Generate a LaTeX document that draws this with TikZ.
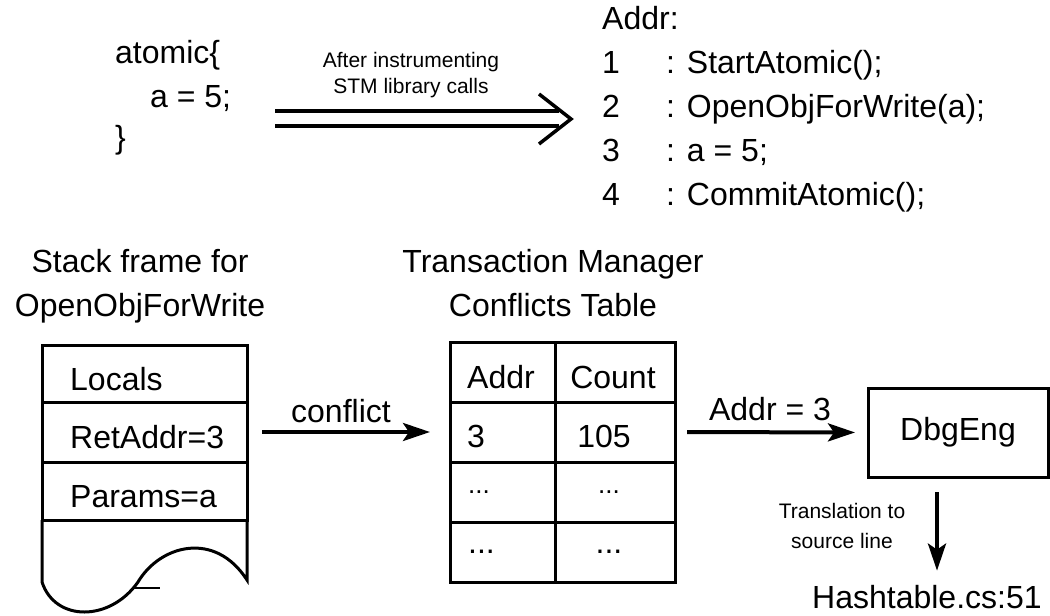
\documentclass[tikz,border=0pt]{standalone}
\usepackage{fontspec}
\setmainfont{Liberation Sans}
\usetikzlibrary{arrows.meta}

\tikzset{
    txt/.style={font=\fontsize{32}{38}\selectfont, inner sep=0pt},
    note/.style={font=\fontsize{21}{25}\selectfont, inner sep=0pt},
    cell/.style={draw, line width=3pt, inner sep=0pt, outer sep=0pt},
    flow/.style={line width=4pt, -{Stealth[length=27pt, width=18pt, inset=6pt]}},
}

\begin{document}
\begin{tikzpicture}[x=1pt, y=-1pt]
    \useasboundingbox (0,0) rectangle (1050,616);
    \fill[white] (0,0) rectangle (1050,616);

    % source block and its instrumented form
    \node[txt, anchor=base west] (atomic) at (115,63) {atomic\{};
    \node[txt, anchor=base west] (assign) at (150,107) {a = 5;};
    \node[txt, anchor=base west] (close) at (115,148) {\}};

    \node[txt, anchor=base west] (addr) at (602,29) {Addr:};
    \foreach \n/\call in {1/{StartAtomic();}, 2/{OpenObjForWrite(a);}, 3/{a = 5;}, 4/{CommitAtomic();}} {
        \node[txt, anchor=base west] (num\n) at (602,29+44*\n) {\n};
        \node[txt, anchor=base west] (call\n) at (666,29+44*\n) {: \call};
    }

    \coordinate (impl-s) at (275,118);
    \coordinate (impl-e) at (571,119);
    \draw[line width=4pt, double distance=11pt] (impl-s) -- ([xshift=-12pt, yshift=1pt]impl-e);
    \draw[line width=3.5pt] ([xshift=-32pt, yshift=25pt]impl-e) -- (impl-e) -- ([xshift=-32pt, yshift=-25pt]impl-e);
    \node[note, anchor=base] (after1) at (411,67) {After instrumenting};
    \node[note, anchor=base] (after2) at (411,93) {STM library calls};

    % stack frame
    \node[txt, anchor=base] (stack1) at (140,272) {Stack frame for};
    \node[txt, anchor=base] (stack2) at (140,316) {OpenObjForWrite};
    \node[cell, minimum width=205pt, minimum height=57pt] (locals) at (144.5,373.5) {};
    \node[cell, minimum width=205pt, minimum height=60pt] (ret) at (144.5,432) {};
    \node[cell, minimum width=205pt, minimum height=58pt] (params) at (144.5,491) {};
    \draw[line width=3pt] (params.south west) -- (42,582)
        .. controls (55,622) and (110,622) .. (138,582)
        .. controls (160,545) and (215,530) .. (247,580) -- (params.south east);
    \draw[line width=1.5pt] (134,588) -- (160,588);
    \node[txt, anchor=base west] (t-locals) at (70,390) {Locals};
    \node[txt, anchor=base west] (t-ret) at (70,448) {RetAddr=3};
    \node[txt, anchor=base west] (t-params) at (70,507) {Params=a};

    % conflicts table
    \node[txt, anchor=base] (tm1) at (553,272) {Transaction Manager};
    \node[txt, anchor=base] (tm2) at (553,316) {Conflicts Table};
    \foreach \r/\cy in {0/372.5, 1/432, 2/492, 3/552} {
        \node[cell, minimum width=105pt, minimum height=60pt] (r\r a) at (502.5,\cy) {};
        \node[cell, minimum width=120pt, minimum height=60pt] (r\r b) at (615,\cy) {};
    }
    \node[txt, anchor=base west] (t-addr) at (467,388) {Addr};
    \node[txt, anchor=base] (t-count) at (613,388) {Count};
    \node[txt, anchor=base west] (t-three) at (467,447) {3};
    \node[txt, anchor=base] (t-hits) at (604,447) {105};
    \node[txt, font=\fontsize{26}{30}\selectfont, anchor=base west] (t-dots2a) at (468,493) {...};
    \node[txt, font=\fontsize{26}{30}\selectfont, anchor=base] (t-dots2b) at (609,493) {...};
    \node[txt, anchor=base west] (t-dots3a) at (468,553) {...};
    \node[txt, anchor=base] (t-dots3b) at (609,553) {...};

    % debugger
    \node[cell, txt, minimum width=180pt, minimum height=89pt] (dbg) at (958,432.5) {DbgEng};
    \node[txt, anchor=base west] (hash) at (812,608) {Hashtable.cs:51};

    \draw[flow, shorten <=15pt, shorten >=20pt] (ret.east) -- (r1a.west);
    \node[txt, anchor=base] (l-conflict) at (341,422) {conflict};
    \draw[flow, shorten <=12pt, shorten >=13pt] (r1b.east) -- (dbg.west);
    \node[txt, anchor=base] (l-addr) at (770,420) {Addr = 3};
    \draw[flow, shorten <=15pt, shorten >=14pt] ([xshift=-21pt]dbg.south) -- ([xshift=-21pt]dbg.south |- hash.north);
    \node[note, anchor=base] (tr1) at (842,518) {Translation to};
    \node[note, anchor=base] (tr2) at (842,548) {source line};
\end{tikzpicture}
\end{document}
